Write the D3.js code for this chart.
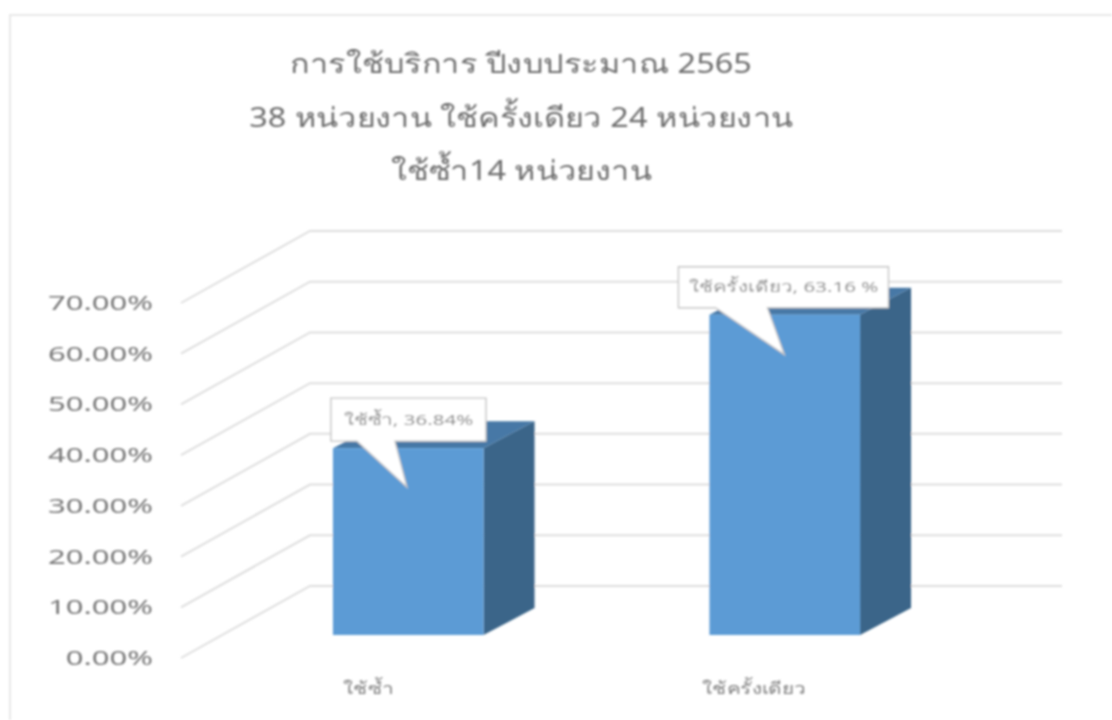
<!DOCTYPE html>
<html><head><meta charset="utf-8">
<script src="https://cdn.jsdelivr.net/npm/d3@7/dist/d3.min.js"></script>
<style>html,body{margin:0;background:#fff}svg{display:block}text{font-family:"Noto Sans","Liberation Sans",sans-serif}</style>
</head><body><div id="c"></div>
<script>
const categories = ["ใช้ซ้ำ","ใช้ครั้งเดียว"];
const values = [36.84,63.16];
const calloutLabels = ["ใช้ซ้ำ, 36.84%","ใช้ครั้งเดียว, 63.16 %"];
const tickValues = [0,10,20,30,40,50,60,70];
const titleLines = ["การใช้บริการ ปีงบประมาณ 2565","38 หน่วยงาน ใช้ครั้งเดียว 24 หน่วยงาน","ใช้ซ้ำ14 หน่วยงาน"];

const W=1112,H=720;
const svg=d3.select("#c").append("svg").attr("width",W).attr("height",H);
const defs=svg.append("defs");
defs.append("filter").attr("id","soft").attr("filterUnits","userSpaceOnUse").attr("x",0).attr("y",0).attr("width",W).attr("height",H)
  .append("feGaussianBlur").attr("stdDeviation",0.8);
const root=svg.append("g").attr("filter","url(#soft)");

const y=d3.scaleLinear().domain([0,70]).range([635,280]);
const x=d3.scaleBand().domain(categories).range([220,973]).paddingInner(.6).paddingOuter(.3);
const wall={front:[181,23],back:[310,-49]}, barD={dx:51,dy:-27};

root.append("path").attr("d",`M10,720V15H1112`).attr("fill","none").attr("stroke","#e8e8e8").attr("stroke-width",2);

root.append("g").selectAll("text").data(titleLines).join("text")
  .attr("transform",(d,i)=>`translate(521,${73+i*53.5}) scale(1.2,1)`)
  .attr("text-anchor","middle").attr("font-size",27).attr("fill","#6e6e6e").text(d=>d);

root.append("g").selectAll("path").data(tickValues).join("path")
  .attr("d",t=>`M${wall.front[0]},${y(t)+wall.front[1]}L${wall.back[0]},${y(t)+wall.back[1]}H1062`)
  .attr("fill","none").attr("stroke","#dedede").attr("stroke-width",2);

root.append("g").selectAll("text").data(tickValues).join("text")
  .attr("transform",t=>`translate(153,${y(t)+23}) scale(1.55,1)`).attr("dy","0.35em").attr("text-anchor","end")
  .attr("font-size",20).attr("fill","#777").text(t=>d3.format(".2f")(t)+"%");

const catShift=[-40,-31];
root.append("g").selectAll("text").data(categories).join("text")
  .attr("transform",(c,i)=>`translate(${x(c)+x.bandwidth()/2+catShift[i]},694) scale(1.3,1)`)
  .attr("text-anchor","middle").attr("font-size",16).attr("fill","#808080").text(c=>c);

const bars=root.append("g").selectAll("g").data(categories.map((c,i)=>({c,v:values[i],l:calloutLabels[i],i}))).join("g");
bars.append("path").attr("fill","#3a6589").attr("d",d=>{const r=x(d.c)+x.bandwidth();
  return `M${r},${y(d.v)}L${r+barD.dx},${y(d.v)+barD.dy}V${y(0)+barD.dy}L${r},${y(0)}Z`;});
bars.append("path").attr("fill","#4678a6").attr("d",d=>{const l=x(d.c),r=l+x.bandwidth();
  return `M${l},${y(d.v)}L${l+barD.dx},${y(d.v)+barD.dy}H${r+barD.dx}L${r},${y(d.v)}Z`;});
bars.append("rect").attr("fill","#5b9bd5").attr("x",d=>x(d.c)).attr("y",d=>y(d.v)).attr("width",x.bandwidth()).attr("height",d=>y(0)-y(d.v));

const boxW=[155,210], boxLeft=[-2,-31], boxTop=[-50,-48], boxH=[43,41], tipDx=[74,75], tipDy=[39,40], baseA=[24,6], baseB=[62,58];
const co=bars.append("g");
co.append("path").attr("fill","#fff").attr("stroke","#c4c4c4").attr("stroke-width",1.4).attr("d",d=>{
  const i=d.i,l=x(d.c)+boxLeft[i],t=y(d.v)+boxTop[i],b=t+boxH[i],x0=x(d.c);
  return `M${l},${t}h${boxW[i]}v${boxH[i]}H${x0+baseB[i]}L${x0+tipDx[i]},${y(d.v)+tipDy[i]}L${x0+baseA[i]},${b}H${l}Z`;});
co.append("text").attr("transform",d=>`translate(${x(d.c)+boxLeft[d.i]+boxW[d.i]/2},${y(d.v)+boxTop[d.i]+boxH[d.i]/2}) scale(1.37,1)`)
  .attr("dy","0.35em").attr("text-anchor","middle").attr("font-size",15).attr("fill","#8a8a8a").text(d=>d.l);
</script></body></html>
